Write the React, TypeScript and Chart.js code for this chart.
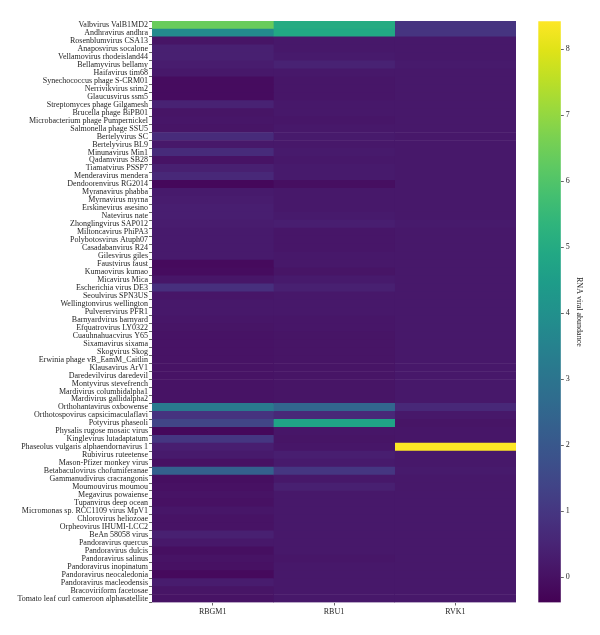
import React, { useEffect, useRef } from "react";
import { Chart, registerables } from "chart.js";

Chart.register(...registerables);

// Viruses (rows, top to bottom)
const viruses: string[] = [
  "Valbvirus ValB1MD2",
  "Andhravirus andhra",
  "Rosenblumvirus CSA13",
  "Anaposvirus socalone",
  "Vellamovirus rhodeisland44",
  "Bellamyvirus bellamy",
  "Haifavirus tim68",
  "Synechococcus phage S-CRM01",
  "Nerrivikvirus srim2",
  "Glaucusvirus ssm5",
  "Streptomyces phage Gilgamesh",
  "Brucella phage BiPB01",
  "Microbacterium phage Pumpernickel",
  "Salmonella phage SSU5",
  "Bertelyvirus SC",
  "Bertelyvirus BL9",
  "Minunavirus Min1",
  "Qadamvirus SB28",
  "Tiamatvirus PSSP7",
  "Menderavirus mendera",
  "Dendoorenvirus RG2014",
  "Myranavirus phabba",
  "Myrnavirus myrna",
  "Erskinevirus asesino",
  "Natevirus nate",
  "Zhonglingvirus SAP012",
  "Miltoncavirus PhiPA3",
  "Polybotosvirus Atuph07",
  "Casadabanvirus R24",
  "Gilesvirus giles",
  "Faustvirus faust",
  "Kumaovirus kumao",
  "Micavirus Mica",
  "Escherichia virus DE3",
  "Seoulvirus SPN3US",
  "Wellingtonvirus wellington",
  "Pulverervirus PFR1",
  "Barnyardvirus barnyard",
  "Efquatrovirus LY0322",
  "Cuauhnahuacvirus Y65",
  "Sixamavirus sixama",
  "Skogvirus Skog",
  "Erwinia phage vB_EamM_Caitlin",
  "Klausavirus ArV1",
  "Daredevilvirus daredevil",
  "Montyvirus stevefrench",
  "Mardivirus columbidalpha1",
  "Mardivirus gallidalpha2",
  "Orthohantavirus oxbowense",
  "Orthotospovirus capsicimaculaflavi",
  "Potyvirus phaseoli",
  "Physalis rugose mosaic virus",
  "Kinglevirus lutadaptatum",
  "Phaseolus vulgaris alphaendornavirus 1",
  "Rubivirus ruteetense",
  "Mason-Pfizer monkey virus",
  "Betabaculovirus chofumiferanae",
  "Gammanudivirus cracrangonis",
  "Moumouvirus moumou",
  "Megavirus powaiense",
  "Tupanvirus deep ocean",
  "Micromonas sp. RCC1109 virus MpV1",
  "Chlorovirus heliozoae",
  "Orpheovirus IHUMI-LCC2",
  "BeAn 58058 virus",
  "Pandoravirus quercus",
  "Pandoravirus dulcis",
  "Pandoravirus salinus",
  "Pandoravirus inopinatum",
  "Pandoravirus neocaledonia",
  "Pandoravirus macleodensis",
  "Bracoviriform facetosae",
  "Tomato leaf curl cameroon alphasatellite",
];

// Samples (columns)
const samples: string[] = ["RBGM1", "RBU1", "RVK1"];

// RNA viral abundance per sample, in row order
const rbgm1: number[] = [
  6.4, 3.8, 0.1, 0.4, 0.4, 0.3, 0.2, -0.1, -0.1, -0.1,
  0.45, 0.1, 0.15, 0.1, 0.7, 0.2, 0.7, 0.05, 0.4, 0.6,
  -0.2, 0.25, 0.3, 0.35, 0.35, 0.3, 0.25, 0.25, 0.25, 0.25,
  -0.15, -0.1, 0.15, 0.8, 0.15, 0.2, 0.2, 0.15, 0.1, 0.05,
  0.05, 0.05, 0.05, 0.05, 0.05, 0.05, 0.05, 0.05, 3.2, 0.9,
  1.4, -0.2, 1.0, 0.35, 0.25, 0.0, 2.3, -0.05, 0.0, 0.05,
  0.0, 0.15, 0.05, 0.05, 0.4, 0.2, -0.05, 0.05, 0.0, -0.15,
  0.3, 0.1, 0.05,
];

const rbu1: number[] = [
  5.0, 4.9, 0.2, 0.2, 0.25, 0.45, 0.2, 0.15, 0.15, 0.15,
  0.2, 0.2, 0.15, 0.2, 0.25, 0.2, 0.25, 0.2, 0.25, 0.25,
  -0.05, 0.2, 0.2, 0.2, 0.25, 0.35, 0.15, 0.15, 0.15, 0.2,
  0.2, 0.1, 0.25, 0.4, 0.2, 0.2, 0.2, 0.15, 0.15, 0.1,
  0.1, 0.1, 0.1, 0.1, 0.1, 0.1, 0.1, 0.1, 2.5, 0.6,
  4.7, 0.15, 0.1, 0.15, 0.35, 0.25, 1.0, 0.2, 0.4, 0.2,
  0.2, 0.2, 0.2, 0.2, 0.2, 0.2, 0.2, 0.15, 0.2, 0.2,
  0.2, 0.2, 0.2,
];

const rvk1: number[] = [
  0.95, 0.95, 0.2, 0.2, 0.2, 0.25, 0.2, 0.2, 0.2, 0.2,
  0.2, 0.2, 0.2, 0.2, 0.2, 0.2, 0.2, 0.2, 0.2, 0.2,
  0.2, 0.2, 0.2, 0.2, 0.2, 0.25, 0.2, 0.2, 0.2, 0.2,
  0.2, 0.2, 0.2, 0.2, 0.2, 0.2, 0.2, 0.2, 0.2, 0.2,
  0.2, 0.2, 0.2, 0.2, 0.2, 0.2, 0.2, 0.2, 0.6, 0.2,
  0.1, 0.15, 0.15, 8.42, 0.2, 0.2, 0.25, 0.2, 0.2, 0.2,
  0.2, 0.2, 0.2, 0.2, 0.2, 0.2, 0.2, 0.2, 0.2, 0.2,
  0.2, 0.2, 0.2,
];

// Colour bar range and ticks
const scaleMin = -0.38;
const scaleMax = 8.42;
const colorbarTicks: number[] = [0, 1, 2, 3, 4, 5, 6, 7, 8];

// Viridis colour map samples, evenly spaced from 0 to 1
const VIRIDIS = [
  "#440154", "#471365", "#482475", "#463480", "#414487", "#3b528b", "#355f8d",
  "#2f6c8e", "#2a788e", "#25848e", "#21918c", "#1e9c89", "#22a884", "#2fb47c",
  "#44bf70", "#5ec962", "#7ad151", "#9bd93c", "#bddf26", "#dfe318", "#fde725",
];

function hexToRgb(h: string): number[] {
  return [1, 3, 5].map((i) => parseInt(h.slice(i, i + 2), 16));
}

function viridis(t: number): string {
  const c = Math.min(1, Math.max(0, t)) * (VIRIDIS.length - 1);
  const i = Math.min(VIRIDIS.length - 2, Math.floor(c));
  const f = c - i;
  const a = hexToRgb(VIRIDIS[i]);
  const b = hexToRgb(VIRIDIS[i + 1]);
  const rgb = a.map((v, k) => Math.round(v + (b[k] - v) * f));
  return `rgb(${rgb[0]},${rgb[1]},${rgb[2]})`;
}

function colorFor(v: number): string {
  return viridis((v - scaleMin) / (scaleMax - scaleMin));
}

const FONT = "'Liberation Serif', 'Times New Roman', serif";
const TEXT = "#262626";
const TICK = "#666666";

export default function App() {
  const heatRef = useRef<HTMLCanvasElement | null>(null);
  const barRef = useRef<HTMLCanvasElement | null>(null);

  useEffect(() => {
    const columns = [rbgm1, rbu1, rvk1];

    const heat = new Chart(heatRef.current!, {
      type: "bar",
      data: {
        labels: viruses,
        datasets: columns.map((vals, ci) => ({
          label: samples[ci],
          data: vals.map(() => [ci, ci + 1]),
          backgroundColor: vals.map(colorFor),
          borderWidth: 0,
          barPercentage: 1,
          categoryPercentage: 1,
          grouped: false,
        })),
      } as any,
      options: {
        indexAxis: "y",
        responsive: false,
        animation: false,
        events: [],
        layout: { padding: { top: 21, right: 14, bottom: 0, left: 0 } },
        plugins: { legend: { display: false }, tooltip: { enabled: false } },
        scales: {
          x: {
            type: "linear",
            min: 0,
            max: 3,
            afterBuildTicks: (scale: any) => {
              scale.ticks = samples.map((_, i) => ({ value: i + 0.5 }));
            },
            afterFit: (scale: any) => {
              scale.height = 32.5;
            },
            ticks: {
              callback: (_v: any, i: number) => samples[i],
              font: { family: FONT, size: 8 },
              color: TEXT,
              padding: 2,
              maxRotation: 0,
            },
            grid: {
              drawOnChartArea: false,
              drawTicks: true,
              tickLength: 3,
              color: TICK,
            },
            border: { display: false },
          },
          y: {
            type: "category",
            afterFit: (scale: any) => {
              scale.width = 152;
            },
            ticks: {
              autoSkip: false,
              font: { family: FONT, size: 8 },
              color: TEXT,
              padding: 1,
            },
            grid: {
              drawOnChartArea: false,
              drawTicks: true,
              tickLength: 3,
              color: TICK,
            },
            border: { display: false },
          },
        },
      } as any,
    });

    const bar = new Chart(barRef.current!, {
      type: "bar",
      data: {
        labels: [""],
        datasets: [
          {
            data: [[scaleMin, scaleMax]],
            borderWidth: 0,
            barPercentage: 1,
            categoryPercentage: 1,
            backgroundColor: (ctx: any) => {
              const chart = ctx.chart;
              if (!chart.chartArea) return VIRIDIS[0];
              const y = chart.scales.y;
              const y0 = y.getPixelForValue(scaleMin);
              const y1 = y.getPixelForValue(scaleMax);
              const g = chart.ctx.createLinearGradient(0, y0, 0, y1);
              VIRIDIS.forEach((c, i) => g.addColorStop(i / (VIRIDIS.length - 1), c));
              return g;
            },
          },
        ],
      } as any,
      options: {
        responsive: false,
        animation: false,
        events: [],
        layout: { padding: { top: 21.3, right: 14.2, bottom: 32.5, left: 8.3 } },
        plugins: { legend: { display: false }, tooltip: { enabled: false } },
        scales: {
          x: { display: false },
          y: {
            type: "linear",
            position: "right",
            min: scaleMin,
            max: scaleMax,
            afterBuildTicks: (scale: any) => {
              scale.ticks = colorbarTicks.map((v) => ({ value: v }));
            },
            afterFit: (scale: any) => {
              scale.width = 25;
            },
            ticks: {
              font: { family: FONT, size: 8 },
              color: TEXT,
              padding: 2,
            },
            grid: {
              drawOnChartArea: false,
              drawTicks: true,
              tickLength: 3,
              color: TICK,
            },
            border: { display: false },
            title: {
              display: true,
              text: "RNA viral abundance",
              font: { family: FONT, size: 8 },
              color: TEXT,
              padding: { top: 2, bottom: 2 },
            },
          },
        },
      } as any,
    });

    return () => {
      heat.destroy();
      bar.destroy();
    };
  }, []);

  return (
    <div style={{ position: "absolute", left: 0, top: 0, width: 600, height: 635, background: "#fff" }}>
      <canvas
        ref={heatRef}
        width={530}
        height={635}
        style={{ position: "absolute", left: 0, top: 0, width: 530, height: 635, display: "block" }}
      />
      <canvas
        ref={barRef}
        width={70}
        height={635}
        style={{ position: "absolute", left: 530, top: 0, width: 70, height: 635, display: "block" }}
      />
    </div>
  );
}
